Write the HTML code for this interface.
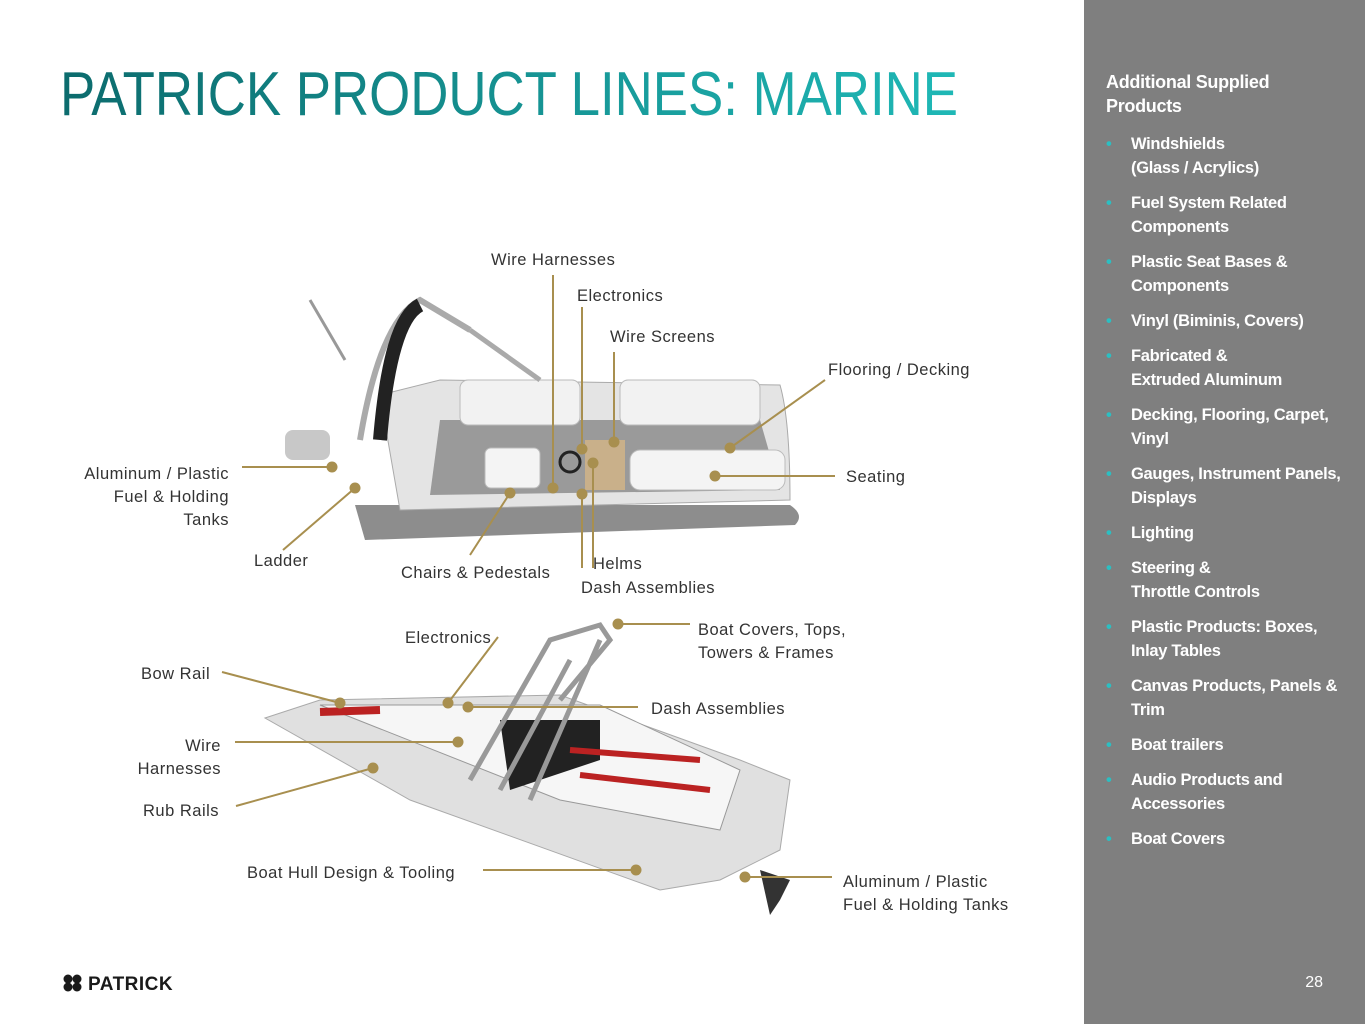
<!DOCTYPE html>
<html><head><meta charset="utf-8"><style>
body{margin:0;width:1365px;height:1024px;position:relative;background:#fff;overflow:hidden;font-family:"Liberation Sans",sans-serif}
.side{position:absolute;left:1084px;top:0;width:281px;height:1024px;background:#7f7f7f;color:#fff}
.side h3{position:absolute;left:22px;top:70px;margin:0;font-size:18px;line-height:24px;font-weight:bold;letter-spacing:-0.3px}
.side ul{position:absolute;left:22px;top:132px;margin:0;padding:0;list-style:none;width:259px}
.side li{font-size:16.5px;font-weight:bold;line-height:24px;padding-left:25px;position:relative;margin-bottom:11px;letter-spacing:-0.3px;white-space:nowrap}
.side li:before{content:"•";color:#2bbfc2;position:absolute;left:0}
.pg{position:absolute;right:42px;top:974px;font-size:16px;color:#fff}
.lbl{font-size:16.5px;fill:#333;letter-spacing:0.5px}
</style></head><body>
<svg width="1084" height="1024" style="position:absolute;left:0;top:0">
<defs><linearGradient id="t" x1="0" x2="1"><stop offset="0" stop-color="#0c6b6d"/><stop offset="1" stop-color="#1fb8b6"/></linearGradient></defs>
<text x="60" y="115" font-size="62" fill="url(#t)" textLength="898" lengthAdjust="spacingAndGlyphs">PATRICK PRODUCT LINES: MARINE</text>
<g>
<path d="M355 505 L790 505 Q805 515 795 525 L365 540 Z" fill="#8d8d8d"/>
<path d="M380 395 L440 380 L780 385 Q790 420 790 500 L400 510 Z" fill="#e4e4e4" stroke="#aaa"/>
<path d="M440 420 L760 420 L780 490 L430 495 Z" fill="#9a9a9a"/>
<rect x="460" y="380" width="120" height="45" rx="8" fill="#f2f2f2" stroke="#bbb"/>
<rect x="620" y="380" width="140" height="45" rx="8" fill="#f2f2f2" stroke="#bbb"/>
<rect x="630" y="450" width="155" height="40" rx="10" fill="#f4f4f4" stroke="#bbb"/>
<rect x="485" y="448" width="55" height="40" rx="6" fill="#f4f4f4" stroke="#bbb"/>
<rect x="585" y="440" width="40" height="50" fill="#c9b08a"/>
<circle cx="570" cy="462" r="10" fill="none" stroke="#222" stroke-width="3"/>
<path d="M360 440 Q380 320 420 300 L470 330" fill="none" stroke="#aaa" stroke-width="6"/>
<path d="M380 440 Q390 320 420 305" fill="none" stroke="#222" stroke-width="14"/>
<path d="M470 330 L540 380" stroke="#aaa" stroke-width="5"/>
<path d="M310 300 L345 360" stroke="#999" stroke-width="3"/>
<rect x="285" y="430" width="45" height="30" rx="8" fill="#c8c8c8"/>
</g>
<g>
<path d="M265 718 L320 700 L560 695 L740 760 L790 780 L780 850 L720 880 L660 890 L410 800 Z" fill="#e0e0e0" stroke="#aaa"/>
<path d="M320 705 L600 705 L740 770 L720 830 L560 800 Z" fill="#f6f6f6" stroke="#999"/>
<path d="M500 720 L600 720 L600 760 L510 790 Z" fill="#222"/>
<path d="M570 750 L700 760 M580 775 L710 790" stroke="#b22" stroke-width="6"/>
<path d="M320 712 L380 710" stroke="#b22" stroke-width="8"/>
<path d="M470 780 L550 640 L600 625 L610 640 L560 700 M500 790 L570 660 M530 800 L600 640" fill="none" stroke="#999" stroke-width="5"/>
<path d="M760 870 L790 880 L780 900 L770 915 Z" fill="#333"/>
</g>
<g stroke="#a88f4f" stroke-width="2" fill="none">
<path d="M553 275 V488"/><path d="M582 307 V449"/><path d="M614 352 V442"/>
<path d="M825 380 L730 448"/><path d="M835 476 H715"/>
<path d="M242 467 H332"/><path d="M283 550 L355 488"/><path d="M470 555 L510 493"/>
<path d="M582 568 V494"/><path d="M593 568 V463"/>
<path d="M222 672 L340 703"/><path d="M498 637 L448 703"/><path d="M690 624 H618"/>
<path d="M638 707 H468"/><path d="M235 742 H458"/><path d="M236 806 L373 768"/>
<path d="M483 870 H636"/><path d="M832 877 H745"/>
</g>
<g fill="#a88f4f">
<circle cx="553" cy="488" r="5.5"/><circle cx="582" cy="449" r="5.5"/><circle cx="614" cy="442" r="5.5"/>
<circle cx="730" cy="448" r="5.5"/><circle cx="715" cy="476" r="5.5"/><circle cx="332" cy="467" r="5.5"/>
<circle cx="355" cy="488" r="5.5"/><circle cx="510" cy="493" r="5.5"/><circle cx="582" cy="494" r="5.5"/>
<circle cx="593" cy="463" r="5.5"/><circle cx="340" cy="703" r="5.5"/><circle cx="448" cy="703" r="5.5"/>
<circle cx="618" cy="624" r="5.5"/><circle cx="468" cy="707" r="5.5"/><circle cx="458" cy="742" r="5.5"/>
<circle cx="373" cy="768" r="5.5"/><circle cx="636" cy="870" r="5.5"/><circle cx="745" cy="877" r="5.5"/>
</g>
<g class="lbl">
<text x="491" y="265">Wire Harnesses</text>
<text x="577" y="301">Electronics</text>
<text x="610" y="342">Wire Screens</text>
<text x="828" y="375">Flooring / Decking</text>
<text x="846" y="482">Seating</text>
<text x="229" y="479" text-anchor="end">Aluminum / Plastic</text>
<text x="229" y="502" text-anchor="end">Fuel &amp; Holding</text>
<text x="229" y="525" text-anchor="end">Tanks</text>
<text x="254" y="566">Ladder</text>
<text x="401" y="578">Chairs &amp; Pedestals</text>
<text x="593" y="569">Helms</text>
<text x="581" y="593">Dash Assemblies</text>
<text x="405" y="643">Electronics</text>
<text x="698" y="635">Boat Covers, Tops,</text>
<text x="698" y="658">Towers &amp; Frames</text>
<text x="141" y="679">Bow Rail</text>
<text x="651" y="714">Dash Assemblies</text>
<text x="221" y="751" text-anchor="end">Wire</text>
<text x="221" y="774" text-anchor="end">Harnesses</text>
<text x="143" y="816">Rub Rails</text>
<text x="247" y="878">Boat Hull Design &amp; Tooling</text>
<text x="843" y="887">Aluminum / Plastic</text>
<text x="843" y="910">Fuel &amp; Holding Tanks</text>
</g>
<g fill="#1a1a1a"><circle cx="68" cy="979" r="4.5"/><circle cx="77" cy="979" r="4.5"/><circle cx="68" cy="987" r="4.5"/><circle cx="77" cy="987" r="4.5"/></g>
<text x="88" y="990" font-size="19" font-weight="bold" fill="#1a1a1a" letter-spacing="0.5">PATRICK</text>
</svg>
<div class="side">
<h3>Additional Supplied<br>Products</h3>
<ul>
<li>Windshields<br>(Glass / Acrylics)</li>
<li>Fuel System Related<br>Components</li>
<li>Plastic Seat Bases &amp;<br>Components</li>
<li>Vinyl (Biminis, Covers)</li>
<li>Fabricated &amp;<br>Extruded Aluminum</li>
<li>Decking, Flooring, Carpet,<br>Vinyl</li>
<li>Gauges, Instrument Panels,<br>Displays</li>
<li>Lighting</li>
<li>Steering &amp;<br>Throttle Controls</li>
<li>Plastic Products: Boxes,<br>Inlay Tables</li>
<li>Canvas Products, Panels &amp;<br>Trim</li>
<li>Boat trailers</li>
<li>Audio Products and<br>Accessories</li>
<li>Boat Covers</li>
</ul>
<div class="pg">28</div>
</div>
</body></html>
